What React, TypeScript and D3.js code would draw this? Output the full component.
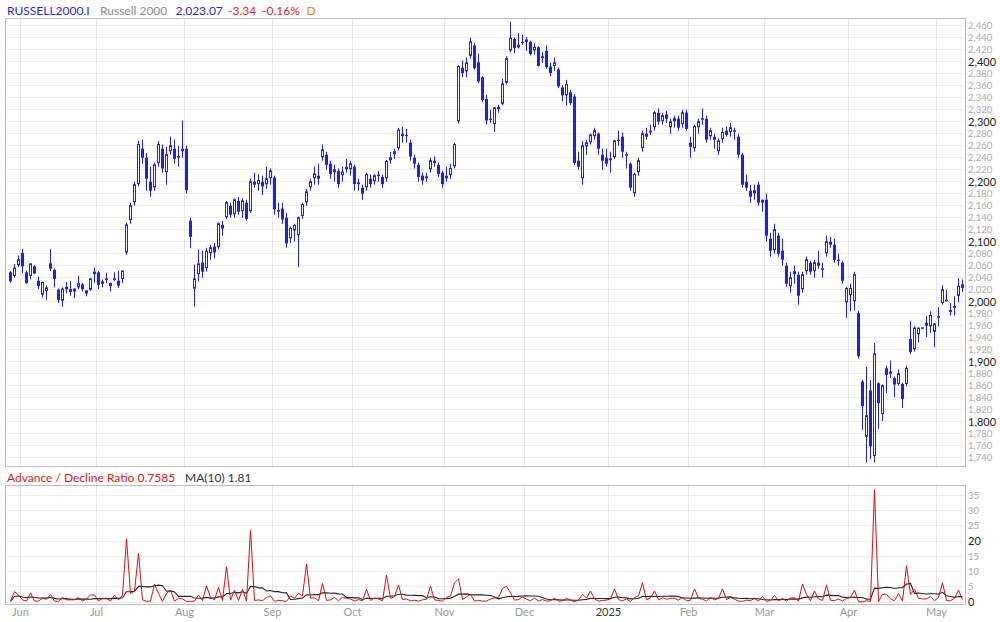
import React from 'react';
import * as d3 from 'd3';

// ---------- DATA ----------
const opens = [2049,2042,2060,2081,2049,2042,2059,2035,2011,2017,2064,2053,2020,2001,2020,2021,2016,2023,2029,2013,2019,2050,2049,2029,2036,2031,2037,2035,2037,2081,
2135,2165,2195,2255,2240,2200,2190,2230,2255,2215,2250,2255,2240,2250,2255,2135,2021,2045,2065,2055,2080,2092,2090,2128,2140,2160,2145,2168,2150,2165,
2150,2200,2195,2200,2195,2205,2207,2150,2155,2140,2105,2118,2110,2142,2165,2190,2205,2210,2240,2245,2230,2215,2218,2210,2220,2220,2225,2195,2190,2190,
2205,2200,2210,2208,2205,2235,2245,2255,2280,2278,2265,2240,2228,2210,2205,2220,2235,2228,2215,2205,2210,2225,2300,2390,2383,2409,2427,2399,2374,2338,
2305,2295,2320,2329,2364,2418,2438,2428,2433,2437,2433,2418,2424,2409,2418,2392,2392,2387,2357,2343,2349,2342,2235,2205,2258,2265,2275,2280,2245,2240,
2235,2240,2270,2275,2245,2230,2180,2215,2255,2280,2285,2290,2315,2300,2312,2290,2300,2305,2295,2315,2265,2255,2290,2305,2305,2275,2275,2250,2270,2285,
2282,2285,2275,2245,2200,2185,2180,2195,2170,2170,2105,2085,2110,2085,2060,2025,2045,2045,2020,2050,2065,2050,2065,2055,2080,2100,2095,2070,2065,1998,
2010,2000,1981,1867,1774,1852,1742,1864,1812,1889,1879,1873,1862,1863,1862,1938,1920,1945,1956,1959,1958,1949,1974,1997,2002,1986,1993,2009,2029];
const highs = [2051,2063,2077,2088,2052,2064,2061,2042,2033,2027,2088,2055,2022,2024,2033,2034,2022,2043,2031,2019,2039,2057,2051,2037,2048,2032,2049,2051,2052,2132,
2165,2200,2268,2270,2248,2225,2232,2268,2262,2258,2275,2270,2260,2302,2260,2140,2062,2087,2085,2090,2095,2098,2132,2135,2168,2165,2172,2175,2172,2170,
2205,2215,2212,2210,2225,2222,2210,2165,2165,2148,2125,2130,2142,2165,2188,2205,2225,2230,2262,2250,2235,2228,2222,2225,2238,2235,2228,2205,2195,2215,
2212,2212,2218,2212,2236,2250,2255,2290,2292,2288,2270,2245,2232,2215,2215,2240,2242,2232,2218,2225,2230,2265,2394,2402,2407,2440,2431,2413,2376,2345,
2320,2324,2328,2372,2409,2466,2440,2448,2445,2441,2435,2431,2426,2416,2427,2398,2407,2390,2361,2370,2353,2346,2250,2268,2270,2280,2290,2282,2255,2255,
2250,2270,2285,2282,2250,2232,2215,2240,2285,2290,2295,2318,2322,2315,2318,2305,2310,2310,2320,2320,2275,2295,2305,2322,2310,2290,2280,2272,2290,2292,
2298,2290,2280,2248,2212,2195,2195,2200,2170,2180,2115,2130,2115,2105,2065,2050,2060,2050,2050,2075,2068,2070,2085,2065,2110,2108,2105,2080,2068,2025,
2030,2050,1985,1870,1892,1869,1931,1866,1862,1893,1902,1875,1887,1865,1893,1968,1959,1957,1957,1976,1984,1964,1991,2027,2020,1998,2009,2039,2037];
const lows = [2032,2040,2058,2048,2030,2037,2046,2021,2007,2003,2051,2024,1998,1992,2014,2010,2006,2021,2017,2009,2018,2031,2021,2024,2031,2017,2034,2023,2031,2078,
2130,2160,2192,2230,2185,2175,2185,2225,2215,2195,2245,2230,2225,2240,2180,2089,1992,2034,2040,2050,2070,2072,2088,2110,2138,2140,2140,2145,2140,2135,
2148,2190,2185,2178,2188,2195,2145,2140,2130,2090,2098,2100,2058,2138,2160,2185,2195,2195,2235,2220,2205,2200,2190,2200,2215,2210,2185,2185,2170,2185,
2190,2195,2200,2190,2200,2230,2238,2252,2265,2265,2235,2222,2200,2195,2200,2215,2225,2208,2190,2200,2205,2222,2297,2374,2374,2405,2387,2364,2333,2295,
2298,2283,2315,2327,2362,2416,2414,2422,2428,2418,2410,2412,2392,2398,2388,2376,2385,2356,2334,2327,2328,2228,2220,2195,2245,2262,2270,2245,2220,2225,
2215,2238,2260,2240,2222,2185,2175,2210,2250,2270,2278,2285,2295,2295,2298,2280,2290,2285,2290,2285,2240,2250,2280,2295,2265,2270,2255,2245,2265,2275,
2275,2270,2240,2190,2185,2165,2170,2160,2150,2100,2075,2080,2075,2060,2025,2015,2030,1995,2015,2045,2045,2040,2055,2040,2075,2090,2065,2060,2030,1973,
1984,1985,1905,1786,1732,1738,1732,1788,1801,1848,1873,1841,1860,1823,1859,1913,1917,1932,1955,1941,1948,1924,1959,1995,2000,1977,1977,1999,2016];
const closes = [2034,2056,2070,2059,2031,2063,2047,2026,2032,2023,2055,2038,2003,2021,2024,2016,2021,2030,2021,2018,2038,2046,2028,2033,2038,2026,2038,2027,2051,2128,
2160,2195,2262,2240,2205,2185,2228,2262,2222,2245,2260,2238,2242,2254,2186,2108,2038,2063,2050,2084,2090,2082,2130,2122,2165,2145,2170,2150,2168,2138,
2200,2195,2202,2192,2205,2218,2154,2152,2137,2097,2122,2127,2140,2162,2183,2200,2213,2205,2253,2228,2213,2220,2196,2216,2224,2230,2196,2198,2180,2212,
2196,2210,2211,2196,2234,2240,2250,2286,2276,2276,2242,2230,2208,2202,2208,2235,2231,2213,2196,2209,2222,2262,2392,2381,2398,2433,2389,2367,2336,2302,
2303,2323,2324,2363,2405,2439,2423,2424,2431,2433,2413,2424,2393,2406,2391,2381,2398,2359,2344,2362,2331,2231,2225,2260,2265,2278,2285,2255,2235,2230,
2238,2268,2268,2250,2245,2190,2212,2235,2280,2275,2282,2315,2300,2310,2305,2300,2305,2290,2315,2288,2258,2292,2300,2305,2270,2285,2270,2268,2282,2278,
2290,2285,2245,2195,2190,2175,2185,2165,2165,2110,2085,2120,2080,2070,2030,2040,2050,2010,2045,2070,2050,2065,2060,2055,2100,2095,2070,2068,2035,2022,
2022,2045,1909,1826,1810,1759,1913,1831,1860,1878,1883,1862,1880,1838,1889,1916,1956,1956,1956.5,1964,1977,1963,1975,2020,2002.5,1983,1990,2025.5,2023.07];

const adRatio = [0.2,3.4,2.3,0.7,0.3,3.0,0.3,0.3,1.2,0.9,2.5,0.3,0.2,1.5,0.7,0.7,0.7,1.5,0.3,1.0,2.3,2.3,0.3,1.2,1.2,0.3,2.3,0.7,2.3,20.7,
2.8,3.6,16.0,0.7,0.2,0.3,5.9,2.8,0.2,2.8,3.9,0.3,1.2,1.0,0.2,0.2,0.3,2.3,0.5,5.3,1.5,0.7,4.8,0.5,11.6,0.6,3.9,0.5,4.2,0.3,
23.6,0.5,0.7,0.4,1.5,2.0,0.2,0.5,0.4,0.2,2.0,1.2,2.8,2.0,12.5,1.2,1.4,0.4,6.1,0.5,0.7,1.5,0.4,1.5,1.2,1.0,0.3,0.8,0.4,4.2,
0.5,1.3,1.0,0.4,8.85,1.2,1.8,5.6,0.8,1.0,0.4,0.6,0.3,0.7,0.9,5.2,0.7,0.5,0.3,1.5,2.0,6.3,7.6,0.8,1.7,2.5,0.3,0.5,0.3,0.3,
1.0,1.3,1.5,4.4,5.2,3.0,0.6,0.8,1.7,0.9,0.4,1.3,0.3,0.8,0.3,0.4,1.2,0.3,0.4,1.2,0.6,0.1,0.6,2.5,1.3,3.6,1.0,0.3,0.5,0.6,
1.0,4.3,0.8,0.4,1.0,0.2,1.5,2.0,6.3,0.7,1.4,3.6,0.7,1.4,0.9,1.2,1.2,0.6,1.5,0.4,0.6,4.3,1.3,0.9,0.3,1.5,0.7,1.2,4.3,0.8,
1.5,0.9,0.3,0.2,0.6,0.4,1.2,0.3,1.8,0.2,0.5,2.2,0.4,1.1,0.3,1.3,1.4,0.3,5.9,2.5,0.4,3.6,1.0,0.5,5.6,0.6,0.4,1.0,0.3,1.2,
1.4,3.9,0.1,0.05,0.4,0.2,36.9,0.1,2.5,2.5,1.0,0.4,2.8,0.3,11.9,2.5,4.2,1.2,1.0,1.0,1.8,0.4,1.5,6.3,0.5,0.4,1.2,3.9,0.7585];

const monthLabels = ['Jun', 'Jul', 'Aug', 'Sep', 'Oct', 'Nov', 'Dec', '2025', 'Feb', 'Mar', 'Apr', 'May'];
const monthStartIndex = [3, 22, 44, 66, 86, 109, 129, 150, 170, 189, 210, 232];
const priceTicks = d3.range(1740, 2461, 20);
const adTicks = [0, 5, 10, 15, 20, 25, 30, 35];

const BLUE = '#2020e0';
const FONT = 'Lato, "Open Sans", sans-serif';

export default function App() {
  const n = closes.length;
  const x = d3.scaleLinear().domain([0, n - 1]).range([10.5, 962.5]);
  const y = d3.scaleLinear().domain([2000, 2400]).range([301.7, 61.7]);
  const ya = d3.scaleLinear().domain([0, 35]).range([602, 495.25]);

  const mainL = 5.5, mainR = 965.5, mainT = 18.5, mainB = 466.5;
  const lowT = 485.5, lowB = 604.5;

  const ma = adRatio.map((_, i) => d3.mean(adRatio.slice(Math.max(0, i - 9), i + 1)) as number);

  const snap = (v: number) => Math.round(v) + 0.5;

  const adLine = d3.line<number>().x((_, i) => x(i)).y(d => ya(d));
  const maLine = d3.line<number>().x((_, i) => x(i)).y(d => ya(d));

  const gridX = monthStartIndex.map(i => snap(x(i) - 2.5));

  return (
    <div style={{ position: 'absolute', left: 0, top: 0 }}>
      <svg width={1000} height={622} style={{ display: 'block', background: '#fff' }} fontFamily={FONT}>
        <rect x={0} y={0} width={1000} height={622} fill="#fff" />
        {/* header */}
        <text x={7} y={15} fontSize={12} fill="#2a2ad4">RUSSELL2000.I</text>
        <text x={100} y={15} fontSize={12} fill="#8a8a8a">Russell 2000</text>
        <text x={175.5} y={15} fontSize={12} fill="#2a2ad4">2,023.07</text>
        <text x={228} y={15} fontSize={12} fill="#e02424">-3.34</text>
        <text x={262} y={15} fontSize={12} fill="#e02424">-0.16%</text>
        <text x={306.5} y={15} fontSize={12} fill="#f07a20">D</text>

        {/* main grid */}
        {priceTicks.map(t => (
          <line key={'hg' + t} x1={mainL} x2={mainR} y1={snap(y(t) - 0.5)} y2={snap(y(t) - 0.5)} stroke="#ececec" />
        ))}
        {gridX.map((gx, k) => (
          <line key={'vg' + k} x1={gx} x2={gx} y1={mainT} y2={mainB} stroke="#e6e6e6" />
        ))}
        {/* price labels */}
        {priceTicks.map(t => {
          const major = t % 100 === 0;
          return (
            <text key={'pl' + t} x={968} y={y(t) + (major ? 4 : 3.5)} fontSize={major ? 11 : 9.5}
              fill={major ? '#222' : '#aaa'}>{d3.format(',')(t)}</text>
          );
        })}

        {/* candles */}
        <g>
          {closes.map((c, i) => {
            const o = opens[i], h = highs[i], l = lows[i];
            const cx = x(i);
            const up = c >= o;
            const yTop = y(Math.max(o, c)), yBot = y(Math.min(o, c));
            const bh = Math.max(1, yBot - yTop);
            return (
              <g key={'c' + i}>
                <line x1={cx} x2={cx} y1={y(h)} y2={y(l)} stroke={BLUE} strokeWidth={1} />
                {up ? (
                  <rect x={cx - 1} y={yTop} width={2} height={Math.max(0.5, bh - 1)} fill="#fff" stroke={BLUE} strokeWidth={1} />
                ) : (
                  <rect x={cx - 1.5} y={yTop} width={3} height={bh} fill={BLUE} />
                )}
              </g>
            );
          })}
        </g>
        <rect x={mainL} y={mainT} width={mainR - mainL} height={mainB - mainT} fill="none" stroke="#bdbdbd" />

        {/* lower panel */}
        <text x={7} y={482} fontSize={12} fill="#d42020">Advance / Decline Ratio 0.7585</text>
        <text x={185} y={482} fontSize={12} fill="#333">MA(10) 1.81</text>
        {adTicks.map(t => (
          <line key={'ag' + t} x1={mainL} x2={mainR} y1={snap(ya(t) - 0.5)} y2={snap(ya(t) - 0.5)} stroke="#ececec" />
        ))}
        {gridX.map((gx, k) => (
          <line key={'avg' + k} x1={gx} x2={gx} y1={lowT} y2={lowB} stroke="#e6e6e6" />
        ))}
        {adTicks.map(t => {
          const major = t === 0 || t === 20;
          return (
            <text key={'al' + t} x={968} y={ya(t) + (major ? 4 : 3.5)} fontSize={major ? 11 : 9.5}
              fill={major ? '#222' : '#aaa'}>{t}</text>
          );
        })}
        <path d={maLine(ma) || ''} fill="none" stroke="#222" strokeWidth={1.1} />
        <path d={adLine(adRatio) || ''} fill="none" stroke="#d81010" strokeWidth={1} />
        <rect x={mainL} y={lowT} width={mainR - mainL} height={lowB - lowT} fill="none" stroke="#bdbdbd" />

        {/* month labels */}
        {monthLabels.map((m, k) => (
          <text key={'ml' + k} x={gridX[k]} y={616} fontSize={11} textAnchor="middle"
            fill={m === '2025' ? '#333' : '#999'}>{m}</text>
        ))}
      </svg>
    </div>
  );
}
